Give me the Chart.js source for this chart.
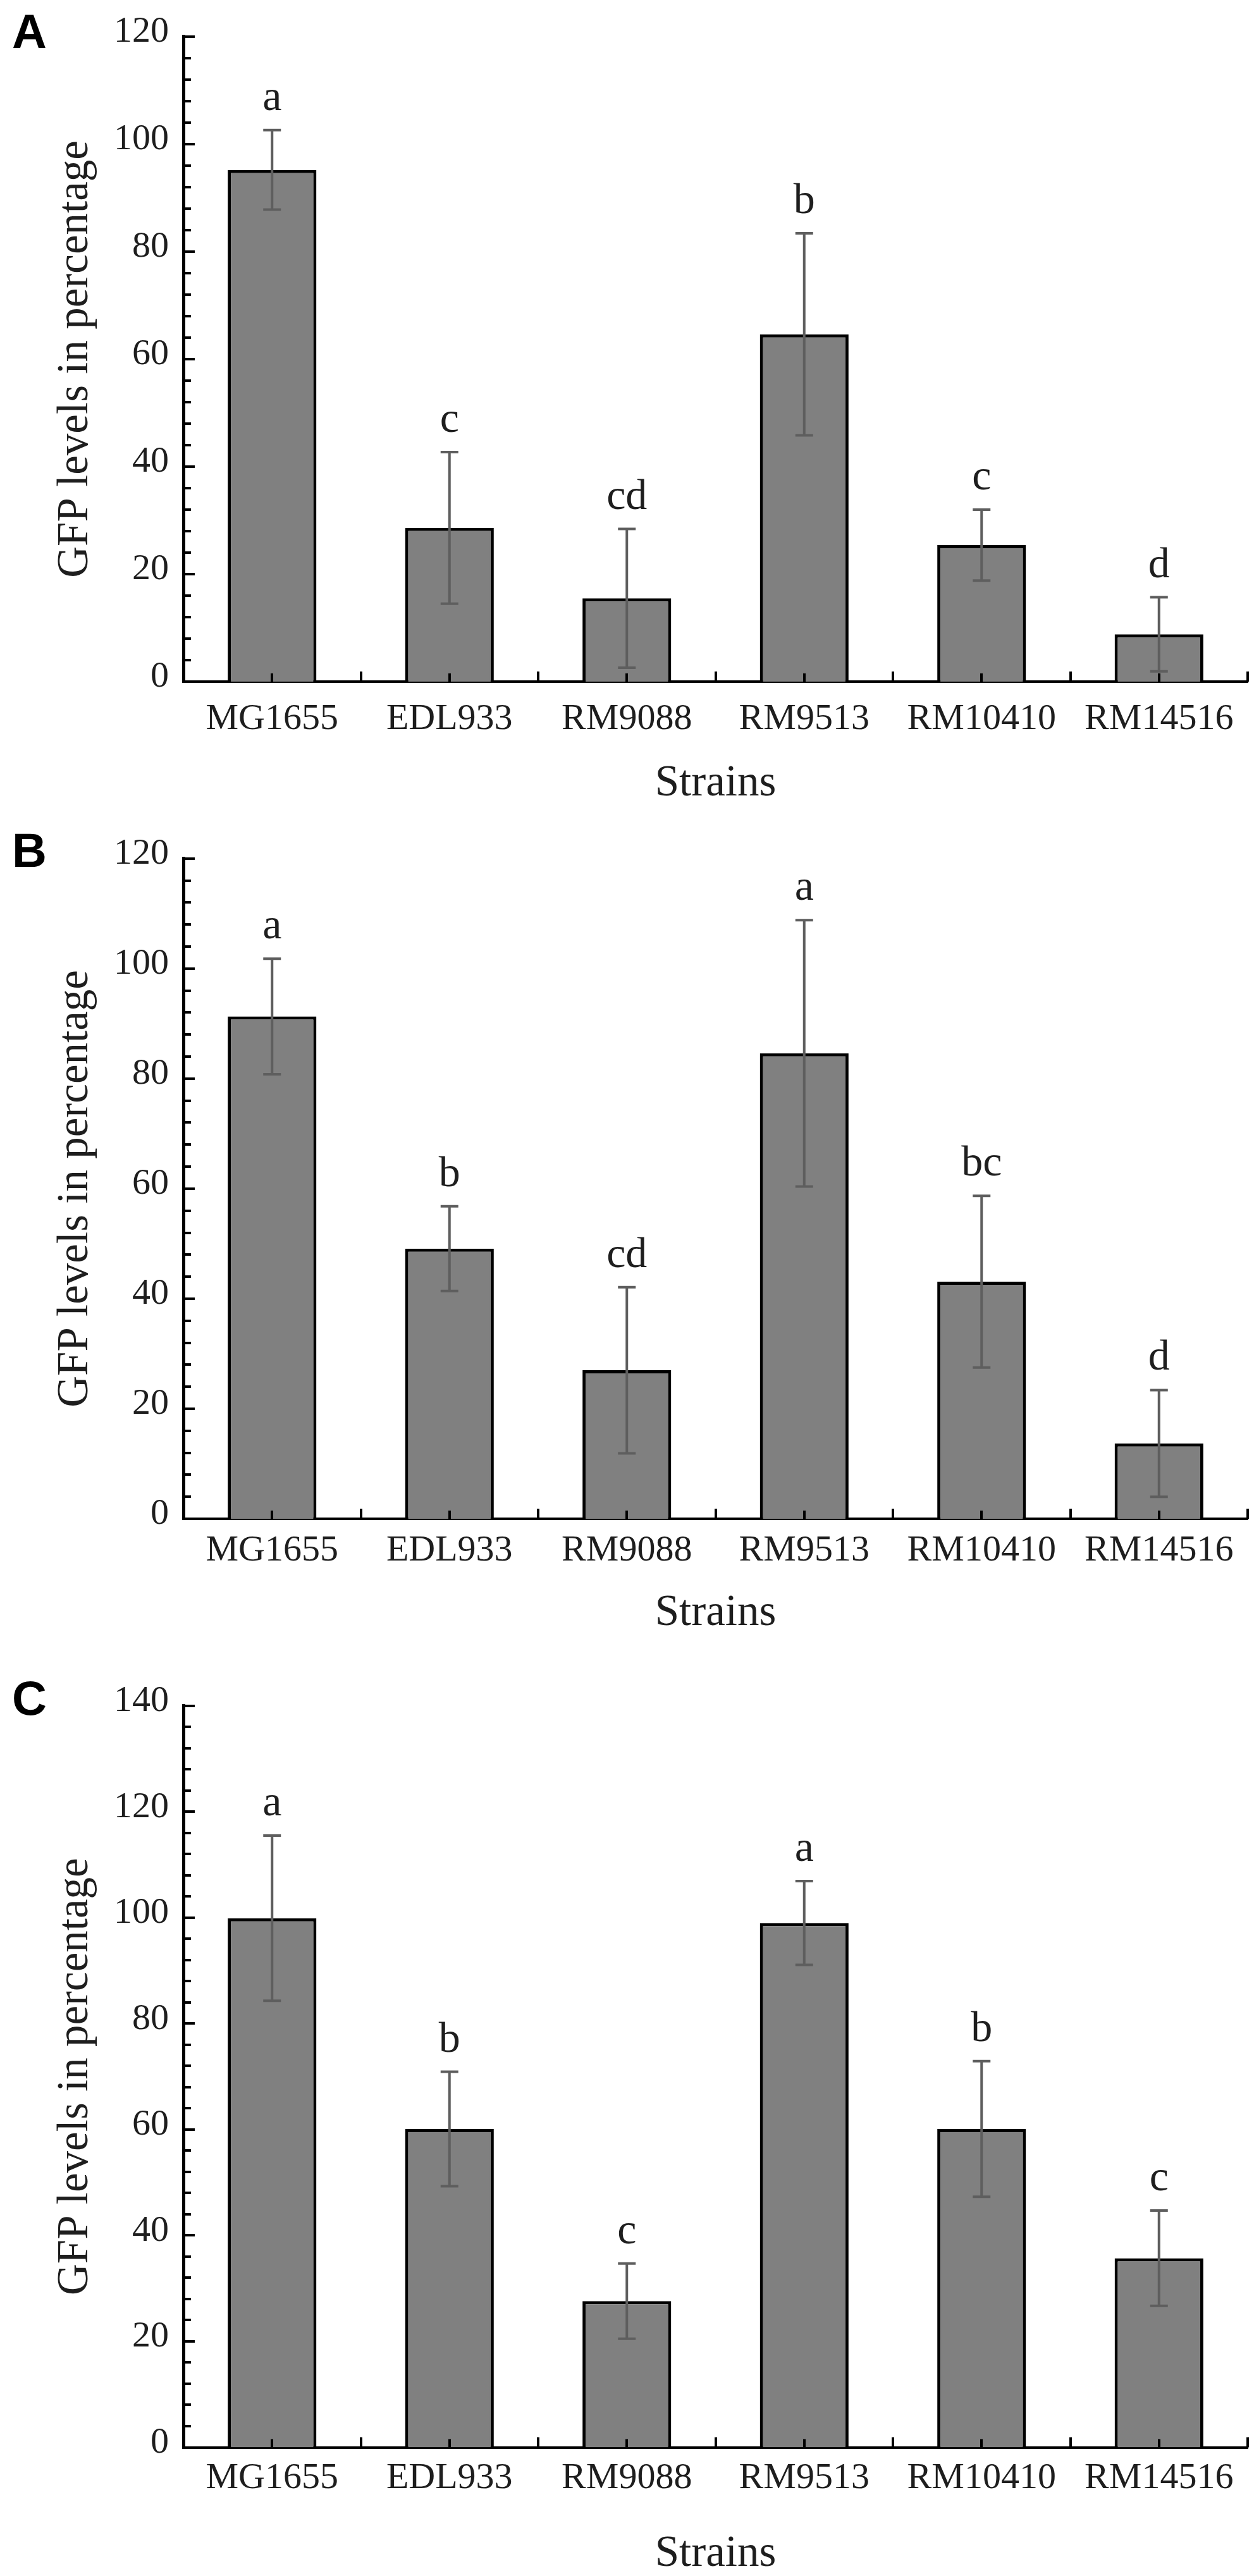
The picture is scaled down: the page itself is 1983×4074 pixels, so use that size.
<!DOCTYPE html>
<html>
<head>
<meta charset="utf-8">
<script src="https://cdn.jsdelivr.net/npm/chart.js@4.4.1/dist/chart.umd.min.js"></script>
<style>
  html, body { margin: 0; padding: 0; background: #ffffff; }
  body { width: 1983px; height: 4074px; position: relative; overflow: hidden; }
  .panel { position: absolute; left: 0; width: 1983px; }
  .panel canvas { display: block; }
  .plabel { position: absolute; left: 19px; font-family: "Liberation Sans", Arial, sans-serif;
            font-weight: bold; font-size: 76px; line-height: 1; color: #000; }
</style>
</head>
<body>
<div class="panel" style="top:0px;height:1300px"><canvas id="cA" width="1983" height="1300"></canvas></div>
<div class="panel" style="top:1300px;height:1340px"><canvas id="cB" width="1983" height="1340"></canvas></div>
<div class="panel" style="top:2640px;height:1434px"><canvas id="cC" width="1983" height="1434"></canvas></div>
<div class="plabel" style="top:12px">A</div>
<div class="plabel" style="top:1307px">B</div>
<div class="plabel" style="top:2648px">C</div>

<script>
// ---------------- data ----------------
const strains = ['MG1655', 'EDL933', 'RM9088', 'RM9513', 'RM10410', 'RM14516'];

const gfpA = [95.2, 28.6, 15.5, 64.6, 25.4, 8.8];
const errA = [7.4, 14.1, 12.9, 18.8, 6.6, 6.9];
const sigA = ['a', 'c', 'cd', 'b', 'c', 'd'];

const gfpB = [91.3, 49.1, 27.0, 84.6, 43.1, 13.7];
const errB = [10.5, 7.7, 15.1, 24.2, 15.6, 9.7];
const sigB = ['a', 'b', 'cd', 'a', 'bc', 'd'];

const gfpC = [99.9, 60.1, 27.6, 99.0, 60.1, 35.7];
const errC = [15.6, 10.8, 7.1, 7.9, 12.8, 9.0];
const sigC = ['a', 'b', 'c', 'a', 'b', 'c'];

const yTicksAB = [0, 20, 40, 60, 80, 100, 120];
const yTicksC = [0, 20, 40, 60, 80, 100, 120, 140];

const xTitle = 'Strains';
const yTitle = 'GFP levels in percentage';

// ---------------- style / layout ----------------
const SERIF = '"Liberation Serif", "Times New Roman", Times, serif';
const TEXT = '#1e1e1e';
const TICK_SIZE = 58;
const TITLE_SIZE = 69;
const SIG_SIZE = 68;

const layouts = {
  A: { plotTop: 35, plotBottom: 1078, height: 1300, labelCenter: 1137.5, titleCenter: 1240 },
  B: { plotTop: 41, plotBottom: 1102, height: 1340, labelCenter: 1153, titleCenter: 1252 },
  C: { plotTop: 50, plotBottom: 1230.5, height: 1434, labelCenter: 1280, titleCenter: 1400 }
};

const decorPlugin = {
  id: 'decor',
  afterDatasetsDraw(chart, args, opts) {
    const ctx = chart.ctx;
    const ys = chart.scales.y;
    const meta = chart.getDatasetMeta(0);
    ctx.save();
    // error bars
    ctx.strokeStyle = '#5e5e5e';
    ctx.lineWidth = 4;
    meta.data.forEach((bar, i) => {
      const v = opts.values[i], e = opts.errors[i];
      const x = bar.x;
      const yt = ys.getPixelForValue(v + e);
      const yb = ys.getPixelForValue(v - e);
      ctx.beginPath();
      ctx.moveTo(x, yt); ctx.lineTo(x, yb);
      ctx.moveTo(x - 14, yt); ctx.lineTo(x + 14, yt);
      ctx.moveTo(x - 14, yb); ctx.lineTo(x + 14, yb);
      ctx.stroke();
      // significance letters
      ctx.fillStyle = TEXT;
      ctx.font = SIG_SIZE + 'px ' + SERIF;
      ctx.textAlign = 'center';
      ctx.textBaseline = 'alphabetic';
      ctx.fillText(opts.letters[i], x, yt - 32);
    });
    ctx.restore();
  },
  afterDraw(chart) {
    const ctx = chart.ctx;
    const ys = chart.scales.y;
    const xs = chart.scales.x;
    const area = chart.chartArea;
    ctx.save();
    ctx.strokeStyle = '#000';
    ctx.lineWidth = 4;
    // inward y ticks: major every 20, minor every 4
    const max = ys.max;
    ctx.beginPath();
    for (let v = 0; v <= max + 0.001; v += 4) {
      const y = Math.round(ys.getPixelForValue(v));
      const len = (v % 20 === 0) ? 18 : 12;
      ctx.moveTo(area.left, y);
      ctx.lineTo(area.left + len, y);
    }
    // inward x ticks at category centres and boundaries
    const n = chart.data.labels.length;
    const half = (xs.getPixelForValue(1) - xs.getPixelForValue(0)) / 2;
    const yb = area.bottom;
    for (let i = 0; i < n; i++) {
      const c = Math.round(xs.getPixelForValue(i));
      ctx.moveTo(c, yb); ctx.lineTo(c, yb - 13);
      const r = Math.round(xs.getPixelForValue(i) + half);
      ctx.moveTo(r, yb); ctx.lineTo(r, yb - 16);
    }
    ctx.stroke();
    ctx.restore();
  }
};

function makePanel(id, values, errors, letters, yTicks, L) {
  const ctx = document.getElementById(id);
  return new Chart(ctx, {
    type: 'bar',
    data: {
      labels: strains,
      datasets: [{
        data: values,
        backgroundColor: '#808080',
        borderColor: '#000000',
        borderWidth: 5,
        borderSkipped: 'start',
        barPercentage: 0.5,
        categoryPercentage: 1.0
      }]
    },
    options: {
      responsive: false,
      devicePixelRatio: 1,
      animation: false,
      layout: { padding: { top: L.plotTop, left: 0, right: 10, bottom: 0 } },
      plugins: {
        legend: { display: false },
        tooltip: { enabled: false },
        decor: { values: values, errors: errors, letters: letters }
      },
      scales: {
        x: {
          type: 'category',
          offset: true,
          grid: { display: false, drawTicks: false },
          border: { display: true, width: 4, color: '#000' },
          ticks: {
            color: TEXT,
            font: { family: SERIF, size: TICK_SIZE },
            padding: L.labelCenter - L.plotBottom - TICK_SIZE * 0.6,
            maxRotation: 0, minRotation: 0, autoSkip: false
          },
          title: {
            display: true, text: xTitle, color: TEXT,
            font: { family: SERIF, size: TITLE_SIZE, lineHeight: 1 },
            padding: { top: 0, bottom: L.height - TITLE_SIZE / 2 - L.titleCenter }
          },
          afterFit(scale) { scale.height = L.height - L.plotBottom; }
        },
        y: {
          min: yTicks[0],
          max: yTicks[yTicks.length - 1],
          grid: { display: false, drawTicks: false },
          border: { display: true, width: 5, color: '#000' },
          afterBuildTicks(scale) { scale.ticks = yTicks.map(v => ({ value: v })); },
          ticks: {
            color: TEXT,
            font: { family: SERIF, size: TICK_SIZE },
            padding: 23,
            labelOffset: -7
          },
          title: {
            display: true, text: yTitle, color: TEXT,
            font: { family: SERIF, size: TITLE_SIZE, lineHeight: 1 },
            padding: { top: 120 - TITLE_SIZE / 2, bottom: 0 }
          },
          afterFit(scale) { scale.width = 290; }
        }
      }
    },
    plugins: [decorPlugin]
  });
}

makePanel('cA', gfpA, errA, sigA, yTicksAB, layouts.A);
makePanel('cB', gfpB, errB, sigB, yTicksAB, layouts.B);
makePanel('cC', gfpC, errC, sigC, yTicksC, layouts.C);
</script>
</body>
</html>
